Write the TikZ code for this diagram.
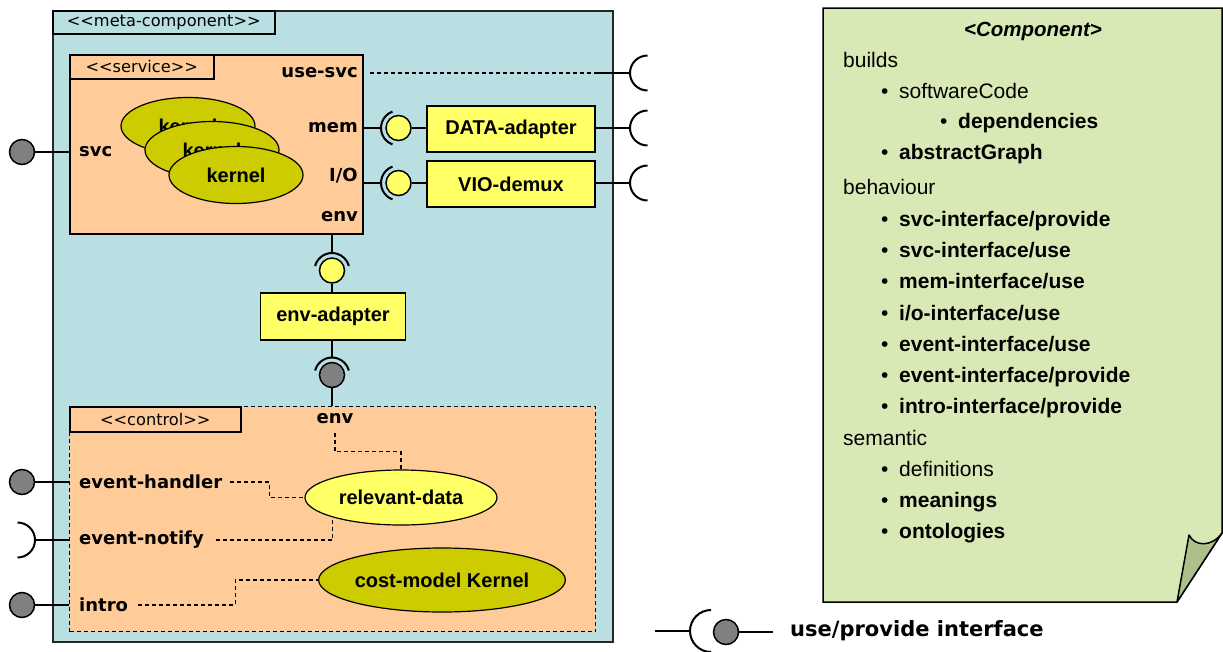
\documentclass[tikz,border=0pt]{standalone}
\usepackage{fontspec}
\setmainfont{Liberation Sans}
\newfontfamily\portfont{DejaVu Sans}
\usetikzlibrary{shapes.geometric}

\definecolor{metabg}{HTML}{B9DFE2}
\definecolor{peach}{HTML}{FFCC99}
\definecolor{olive}{HTML}{CCCC00}
\definecolor{lemon}{HTML}{FFFF66}
\definecolor{ballgray}{HTML}{808080}
\definecolor{notegreen}{HTML}{D9E9B6}
\definecolor{foldgreen}{HTML}{AFBF8C}

\tikzset{
  conn/.style={line width=2pt, black},
  dashline/.style={line width=1.2pt, dash pattern=on 4pt off 3pt},
  metabox/.style={draw=black!85, line width=2pt, fill=metabg, anchor=north west,
    inner sep=0pt, minimum width=560pt, minimum height=631pt},
  peachbox/.style={draw, line width=1.5pt, fill=peach, anchor=north west, inner sep=0pt},
  tabbox/.style={draw, line width=1.5pt, anchor=north west, inner sep=0pt,
    font=\portfont\fontsize{16.2}{18}\selectfont},
  port/.style={inner sep=0pt, font=\portfont\bfseries\fontsize{18}{21}\selectfont},
  boldlabel/.style={font=\bfseries\fontsize{20}{24}\selectfont},
  kernelnode/.style={ellipse, draw, line width=1.2pt, fill=olive, inner sep=0pt,
    minimum width=134pt, minimum height=57pt, boldlabel},
  adapter/.style={rectangle, draw, line width=1.5pt, fill=lemon, inner sep=0pt,
    minimum width=168pt, minimum height=46pt, boldlabel},
  ball/.style={circle, draw, line width=1.5pt, inner sep=0pt, minimum size=25pt},
  notetext/.style={anchor=base west, inner sep=0pt, font=\fontsize{21}{25}\selectfont},
  % socket opening to the right; the pic origin is its leftmost point
  pics/sockR/.style={code={\draw[conn] (#1,#1) arc (90:270:#1);}},
  pics/sockR/.default=17.5,
  % socket opening to the left; the pic origin is its rightmost point
  pics/sockL/.style={code={\draw[conn] (-17.5,-17.5) arc (-90:90:17.5);}},
  % assembly arcs around a ball, on its left side and on its upper side
  pics/assemL/.style={code={\draw[conn] (110:17.5) arc (110:250:17.5);}},
  pics/assemU/.style={code={\draw[conn] (195:17.5) arc (195:345:17.5);}},
}
\newcommand\bul[1]{\makebox[18pt][l]{•}#1}

\begin{document}
\begin{tikzpicture}[x=1pt,y=-1pt]
\useasboundingbox (0,0) rectangle (1223,651);

% ---------- meta-component ----------
\node[metabox] (meta) at (52,10) {};
\node[tabbox, fill=metabg, minimum width=222pt, minimum height=23pt] (metatab) at (52,10)
  {<{}<meta-component>{}>};

% ---------- service ----------
\node[peachbox, minimum width=293pt, minimum height=179pt] (service) at (69,54) {};
\node[tabbox, fill=peach, minimum width=144pt, minimum height=24pt] (servicetab) at (69,54)
  {<{}<service>{}>};

\node[kernelnode] (k1) at (188,126) {kernel};
\node[kernelnode] (k2) at (212,150) {kernel};
\node[kernelnode] (k3) at (236,175) {kernel};

\node[port, anchor=east] (usesvc) at (358,73) {use-svc};
\node[port, anchor=east] (mem) at (358,128) {mem};
\node[port, anchor=east] (io) at (358,176) {I/O};
\node[port, anchor=east] (senv) at (358,217) {env};
\node[port, anchor=west] (svc) at (79,152) {svc};

% svc provided interface
\node[ball, fill=ballgray] (svcball) at (22,152) {};
\draw[conn] (svcball) -- (service.west |- svcball);

% use-svc required interface
\coordinate (usejoin) at (595,73);
\coordinate (usesock) at (630,73);
\draw[dashline] ([xshift=12pt]usesvc.east) -- (usejoin);
\draw[conn] (usejoin) -- (usesock);
\pic at (usesock) {sockR};

% mem -> DATA-adapter
\node[ball, fill=lemon] (memball) at (398.5,128) {};
\pic at (memball) {assemL};
\draw[conn] (service.east |- memball) -- ([xshift=-17.5pt]memball.center);
\node[adapter] (data) at (511,129) {DATA-adapter};
\draw[conn] (memball) -- (data.west |- memball);
\coordinate (datasock) at (630,128);
\draw[conn] (data.east |- datasock) -- (datasock);
\pic at (datasock) {sockR};

% I/O -> VIO-demux
\node[ball, fill=lemon] (ioball) at (398.5,183) {};
\pic at (ioball) {assemL};
\draw[conn] (service.east |- ioball) -- ([xshift=-17.5pt]ioball.center);
\node[adapter] (vio) at (511,184) {VIO-demux};
\draw[conn] (ioball) -- (vio.west |- ioball);
\coordinate (viosock) at (630,183);
\draw[conn] (vio.east |- viosock) -- (viosock);
\pic at (viosock) {sockR};

% env -> env-adapter -> control
\node[ball, fill=lemon] (envball) at (332,270.5) {};
\pic at (envball) {assemU};
\draw[conn] (service.south -| envball) -- ([yshift=17.5pt]envball.center);
\node[adapter, minimum width=145pt, minimum height=47pt] (envad) at (333,316.5) {env-adapter};
\draw[conn] (envball) -- (envad.north -| envball);
\node[ball, fill=ballgray] (ctlball) at (332,375) {};
\pic at (ctlball) {assemU};
\draw[conn] (envad.south -| ctlball) -- ([yshift=17.5pt]ctlball.center);

% ---------- control ----------
\node[peachbox, line width=1.2pt, dash pattern=on 4pt off 3pt,
  minimum width=526pt, minimum height=225pt] (control) at (69,406) {};
\draw[conn] (ctlball) -- (control.north -| ctlball);
\node[tabbox, fill=peach, minimum width=171pt, minimum height=25pt] (controltab) at (69,406)
  {<{}<control>{}>};

\node[port] (cenv) at (335,418.5) {env};
\node[port, anchor=west] (eh) at (79,482) {event-handler};
\node[port, anchor=west] (en) at (79,540) {event-notify};
\node[port, anchor=west] (intro) at (79,605) {intro};

\node[ellipse, draw, line width=1.2pt, fill=lemon, inner sep=0pt,
  minimum width=192pt, minimum height=55pt, boldlabel] (reldata) at (401,497.5) {relevant-data};
\node[kernelnode, minimum width=222pt, minimum height=64pt] (cost) at (442,580) {cost-model Kernel};

\draw[dashline] ([yshift=-9pt]cenv.south) -- ++(0,19) -| (reldata.north);
\draw[dashline] ([xshift=8pt]eh.east) -- ++(39,0) |- (reldata.west);
\draw[dashline] ([xshift=12pt]en.east) -| (reldata.south west);
\draw[dashline] ([xshift=10pt]intro.east) -- ++(97,0) |- (cost.west);

\node[ball, fill=ballgray] (ehball) at (22,482) {};
\draw[conn] (ehball) -- (control.west |- ehball);
\coordinate (ensock) at (35,540);
\pic at (ensock) {sockL};
\draw[conn] (ensock) -- (control.west |- ensock);
\node[ball, fill=ballgray] (introball) at (22,605) {};
\draw[conn] (introball) -- (control.west |- introball);

% ---------- component note ----------
\draw[line width=1.5pt, fill=notegreen, line join=miter]
  (823,8) -- (1222,8) -- (1222,533) -- (1177,602) -- (823,602) -- cycle;
\draw[line width=1.5pt, fill=foldgreen, line join=round]
  (1177,602) -- (1189,535) .. controls (1195,547) and (1212,547) .. (1222,533) -- cycle;

\node[anchor=base, inner sep=0pt, font=\bfseries\itshape\fontsize{20.5}{24}\selectfont]
  (ctitle) at (1033,36.5) {<Component>};
\node[notetext] (t1) at (843,67) {builds};
\node[notetext] (t2) at (881,98) {\bul{softwareCode}};
\node[notetext] (t3) at (940,128.5) {\bul{\textbf{dependencies}}};
\node[notetext] (t4) at (881,159.5) {\bul{\textbf{abstractGraph}}};
\node[notetext] (t5) at (843,194) {behaviour};
\node[notetext] (t6) at (881,226.5) {\bul{\textbf{svc-interface/provide}}};
\node[notetext] (t7) at (881,257.7) {\bul{\textbf{svc-interface/use}}};
\node[notetext] (t8) at (881,288.9) {\bul{\textbf{mem-interface/use}}};
\node[notetext] (t9) at (881,320.1) {\bul{\textbf{i/o-interface/use}}};
\node[notetext] (t10) at (881,351.3) {\bul{\textbf{event-interface/use}}};
\node[notetext] (t11) at (881,382.5) {\bul{\textbf{event-interface/provide}}};
\node[notetext] (t12) at (881,413.7) {\bul{\textbf{intro-interface/provide}}};
\node[notetext] (t13) at (843,445) {semantic};
\node[notetext] (t14) at (881,476.5) {\bul{definitions}};
\node[notetext] (t15) at (881,507.5) {\bul{\textbf{meanings}}};
\node[notetext] (t16) at (881,538.5) {\bul{\textbf{ontologies}}};

% ---------- legend ----------
\coordinate (legstart) at (655,631);
\coordinate (legsock) at (690,631);
\draw[conn] (legstart) -- (legsock);
\pic at (legsock) {sockR=21};
\node[ball, fill=ballgray] (legball) at (726,632) {};
\coordinate (legend) at (773,632);
\draw[conn] (legball) -- (legend);
\node[anchor=west, inner sep=0pt, font=\portfont\bfseries\fontsize{21}{25}\selectfont]
  (legtext) at (790,631) {use/provide interface};
\end{tikzpicture}
\end{document}
